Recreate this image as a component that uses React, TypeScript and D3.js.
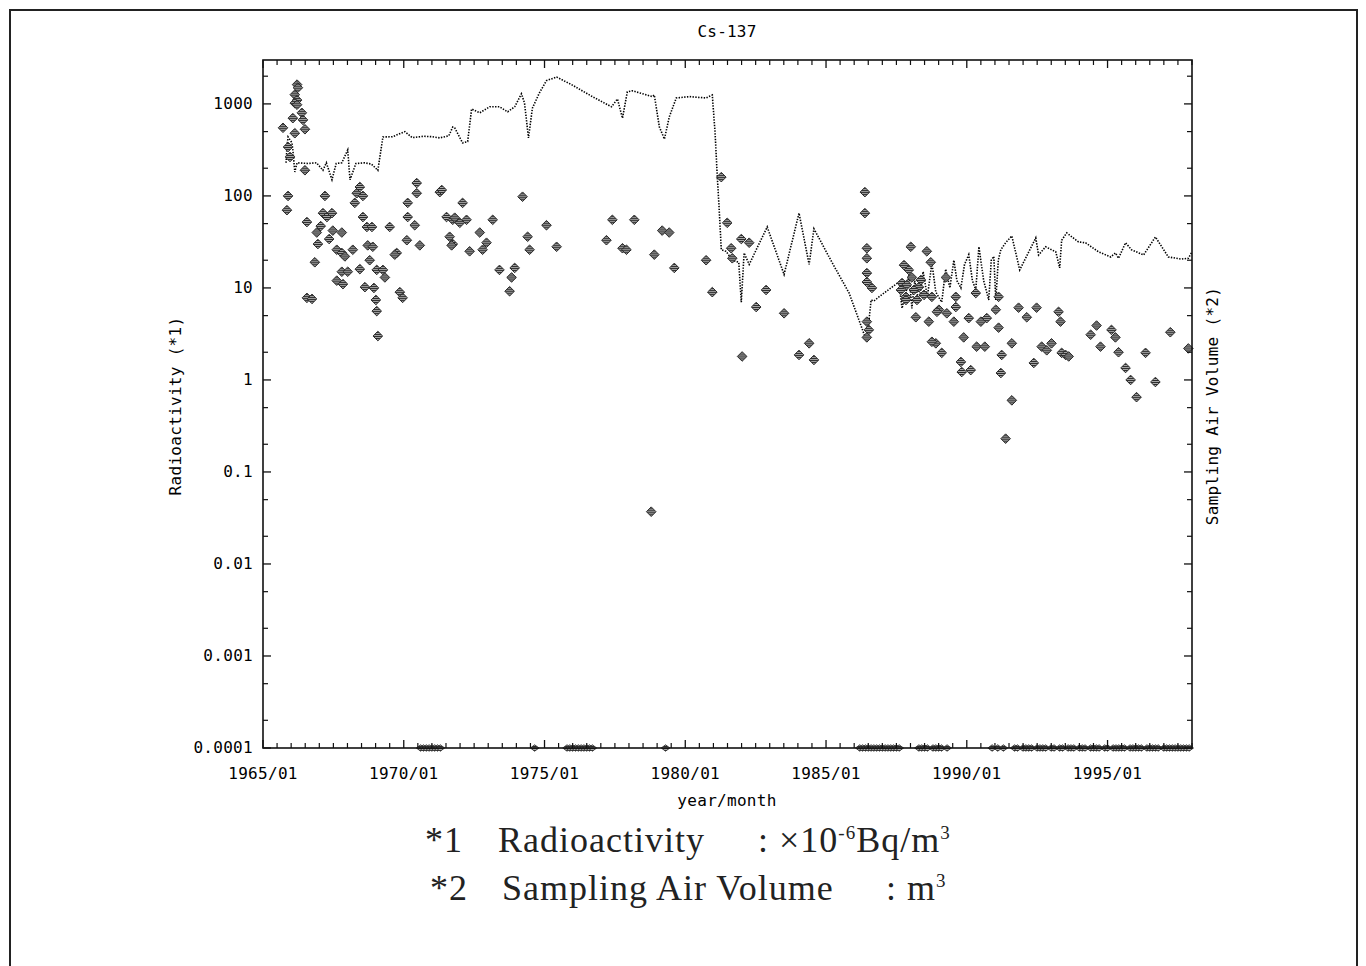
import React from "react";
import * as d3 from "d3";

// Cs-137 radioactivity (x10^-6 Bq/m3): [decimal year, value]
const radio1965 = [
  [1966.21, 1620], [1966.24, 1500], [1966.13, 1260], [1966.21, 1100], [1966.13, 1020],
  [1966.21, 980], [1966.06, 700], [1966.38, 800], [1966.42, 670], [1965.71, 550],
  [1966.13, 480], [1966.49, 530], [1965.89, 340], [1965.96, 265], [1966.49, 190],
  [1965.89, 100], [1965.85, 70], [1967.2, 100], [1966.56, 52], [1966.91, 40],
  [1966.95, 30], [1967.13, 65], [1967.27, 59], [1967.45, 65], [1967.48, 42],
  [1967.8, 40], [1967.62, 26], [1967.8, 24], [1967.91, 22], [1968.19, 26],
  [1968.33, 107], [1968.44, 125], [1968.26, 84], [1968.55, 100], [1968.55, 59],
  [1968.69, 46], [1968.87, 46], [1968.72, 29], [1968.9, 28], [1969.04, 15.7],
  [1969.26, 15.7], [1967.8, 15], [1968.01, 15], [1968.79, 20], [1969.5, 46],
  [1969.75, 24], [1970.11, 33], [1970.14, 59], [1970.46, 138], [1970.46, 107],
  [1970.14, 84], [1970.39, 48], [1970.57, 29], [1966.56, 7.8], [1966.74, 7.6],
  [1967.62, 12], [1967.84, 11], [1969.01, 7.4], [1968.94, 10], [1969.08, 3.0],
  [1969.04, 5.6], [1969.33, 13], [1969.68, 23], [1969.86, 9], [1969.96, 7.8],
  [1968.44, 16], [1968.62, 10.2], [1966.84, 19], [1967.35, 34], [1967.05, 47],
];

const radio1971 = [
  [1971.28, 110], [1971.35, 116], [1971.52, 59], [1971.74, 55], [1971.74, 30],
  [1971.81, 58], [1972.09, 84], [1971.99, 51], [1972.23, 55], [1971.63, 36],
  [1971.7, 29], [1972.7, 40], [1972.94, 31], [1972.34, 25], [1972.8, 26],
  [1973.16, 55], [1973.4, 15.7], [1973.94, 16.5], [1974.22, 98], [1974.4, 36],
  [1974.47, 26], [1975.07, 48], [1975.43, 28], [1973.83, 13], [1973.76, 9.2],
];

const radio1976 = [
  [1977.41, 55], [1977.2, 33], [1977.77, 27], [1978.19, 55], [1977.91, 26],
  [1978.9, 23], [1979.18, 42], [1979.43, 40], [1979.61, 16.5], [1980.74, 20],
  [1980.96, 9], [1978.79, 0.037], [1981.28, 160], [1981.49, 51], [1981.63, 27],
  [1981.67, 21], [1981.99, 34], [1982.27, 31], [1982.52, 6.2], [1982.87, 9.5],
  [1983.51, 5.3], [1982.02, 1.8], [1984.04, 1.87], [1984.4, 2.5], [1984.57, 1.65],
];

const radio1986 = [
  [1986.38, 110], [1986.38, 65], [1986.45, 27], [1986.45, 21], [1986.45, 14.5],
  [1986.45, 11.6], [1986.63, 10], [1986.45, 4.3], [1986.52, 3.5], [1986.45, 2.9],
];

const radio1987 = [
  [1988.01, 28], [1988.58, 25], [1987.7, 11.3], [1987.84, 8], [1987.94, 15.7],
  [1988.05, 13], [1988.3, 10.2], [1988.19, 4.8], [1988.65, 4.3], [1988.76, 8],
  [1988.9, 2.5], [1989.11, 1.97], [1989.01, 5.8], [1989.29, 5.3], [1989.61, 8],
  [1987.84, 7.4], [1988.94, 5.5], [1988.76, 2.6], [1989.61, 6.2], [1989.54, 4.3],
  [1989.89, 2.9], [1989.79, 1.57], [1989.82, 1.22], [1990.14, 1.28], [1990.32, 8.8],
  [1990.07, 4.7], [1990.35, 2.3], [1990.64, 2.3], [1990.5, 4.3], [1990.71, 4.7],
  [1991.13, 3.7], [1991.03, 5.8], [1991.13, 8], [1991.24, 1.87], [1991.21, 1.19],
  [1991.6, 0.6], [1991.38, 0.23], [1991.6, 2.5], [1991.84, 6.1], [1992.13, 4.8],
  [1992.48, 6.1], [1992.38, 1.53], [1992.66, 2.3], [1992.84, 2.1], [1993.01, 2.5],
  [1993.26, 5.5], [1993.33, 4.3], [1993.37, 1.97], [1993.51, 1.87], [1993.62, 1.8],
  [1994.4, 3.1], [1994.61, 3.9], [1994.75, 2.3], [1995.14, 3.5], [1995.28, 2.9],
  [1995.39, 2], [1995.64, 1.35], [1995.82, 1.0], [1996.03, 0.65], [1996.35, 1.97],
  [1996.7, 0.95], [1997.23, 3.3], [1997.87, 2.2], [1987.77, 17.7], [1987.87, 10.8],
  [1988.12, 9.5], [1988.37, 12.2], [1988.48, 8.4], [1988.23, 7.4], [1987.66, 9.5],
  [1988.72, 19], [1989.26, 13],
];

// below detection limit, plotted on the 0.0001 line
const belowLimitDates = [
  1970.6, 1970.7, 1970.8, 1970.9, 1971.0, 1971.1, 1971.2, 1971.3,
  1974.65,
  1975.8, 1975.9, 1976.0, 1976.1, 1976.2, 1976.3, 1976.4, 1976.5, 1976.6, 1976.7,
  1979.3,
  1986.2, 1986.3, 1986.4, 1986.5, 1986.6, 1986.7, 1986.8, 1986.9, 1987.0, 1987.1,
  1987.2, 1987.3, 1987.4, 1987.5, 1987.6,
  1988.3, 1988.4, 1988.5, 1988.6, 1988.8, 1988.9, 1989.0, 1989.1, 1989.3,
  1990.9, 1991.1, 1991.3,
  1991.7, 1991.8, 1992.0, 1992.1, 1992.2, 1992.3, 1992.5, 1992.6, 1992.7, 1992.8,
  1993.0, 1993.1, 1993.3, 1993.4, 1993.6, 1993.7, 1993.8, 1994.0, 1994.1, 1994.2,
  1994.4, 1994.5, 1994.6, 1994.7, 1994.9, 1995.0, 1995.2, 1995.3, 1995.4, 1995.5,
  1995.6, 1995.8, 1995.9, 1996.0, 1996.1, 1996.2, 1996.4, 1996.5, 1996.6, 1996.7,
  1996.8, 1997.0, 1997.1, 1997.2, 1997.3, 1997.4, 1997.5, 1997.6, 1997.7, 1997.8, 1997.9,
];

// sampling air volume (m3): [decimal year, value]
const airVolume = [
  [1965.82, 229], [1965.85, 340], [1965.89, 437], [1966.03, 377], [1966.06, 316],
  [1966.13, 182], [1966.21, 229], [1966.6, 225], [1966.9, 229], [1967.13, 190],
  [1967.25, 229], [1967.45, 150], [1967.6, 225], [1967.8, 229], [1968.01, 316],
  [1968.09, 150], [1968.3, 225], [1968.6, 229], [1968.85, 222], [1969.08, 190],
  [1969.26, 437], [1969.6, 440], [1970.04, 500], [1970.3, 430], [1970.7, 445],
  [1971.0, 440], [1971.28, 427], [1971.6, 450], [1971.74, 560], [1971.81, 550],
  [1972.09, 377], [1972.27, 390], [1972.41, 880], [1972.7, 800], [1973.05, 930],
  [1973.4, 930], [1973.69, 820], [1973.94, 930], [1974.18, 1290], [1974.29, 1020],
  [1974.43, 427], [1974.57, 900], [1974.82, 1320], [1975.07, 1790], [1975.43, 1960],
  [1975.99, 1600], [1976.7, 1200], [1977.38, 930], [1977.59, 1130], [1977.77, 700],
  [1977.94, 1350], [1978.12, 1390], [1978.83, 1200], [1978.9, 1250], [1979.08, 560],
  [1979.26, 415], [1979.43, 720], [1979.68, 1160], [1980.14, 1200], [1980.74, 1160],
  [1980.96, 1250], [1981.06, 480], [1981.13, 178], [1981.2, 76], [1981.28, 26],
  [1981.45, 25], [1981.67, 20], [1981.9, 19], [1981.99, 7], [1982.09, 24],
  [1982.27, 18], [1982.91, 46], [1983.51, 14], [1984.04, 65], [1984.4, 18],
  [1984.57, 44], [1985.21, 19], [1985.82, 8.8], [1986.45, 2.6], [1986.6, 7.4],
  [1986.7, 7.2], [1986.88, 8], [1987.59, 11.6], [1987.7, 6], [1987.84, 8.8],
  [1987.95, 14], [1988.05, 6], [1988.15, 12], [1988.3, 7], [1988.45, 15],
  [1988.6, 8], [1988.76, 18.7], [1988.9, 9], [1989.11, 7], [1989.25, 16],
  [1989.4, 10], [1989.54, 20], [1989.65, 12], [1989.79, 10], [1989.92, 18],
  [1990.07, 23], [1990.2, 12], [1990.32, 9.5], [1990.43, 28], [1990.6, 12],
  [1990.78, 7.4], [1990.87, 20], [1990.96, 22], [1991.03, 7.4], [1991.12, 20],
  [1991.21, 26], [1991.38, 31], [1991.6, 36.7], [1991.88, 15.7], [1992.45, 35],
  [1992.55, 22.8], [1992.8, 28], [1993.16, 24.7], [1993.3, 16.5], [1993.37, 33],
  [1993.55, 39.6], [1993.97, 31.6], [1994.22, 30.9], [1994.68, 24.7], [1995.11, 21.7],
  [1995.28, 24], [1995.39, 21], [1995.64, 31], [1995.85, 26], [1996.28, 22.8],
  [1996.7, 35.8], [1997.16, 21.7], [1997.62, 20.6], [1997.87, 21], [1997.98, 24],
];

const yMajor = [0.0001, 0.001, 0.01, 0.1, 1, 10, 100, 1000];
const xMajor = [1965, 1970, 1975, 1980, 1985, 1990, 1995];

const mono = "'DejaVu Sans Mono', monospace";
const serif = "'Liberation Serif', 'Times New Roman', serif";

const App = () => {
  const left = 263, right = 1192, top = 60, bottom = 748;
  const x = d3.scaleLinear().domain([1965, 1998]).range([left, right]);
  const y = d3.scaleLog().domain([0.0001, 3000]).range([bottom, top]);

  const yMinor = [];
  yMajor.forEach((d) => [2, 5].forEach((m) => { if (d * m <= 3000) yMinor.push(d * m); }));
  const xMinor = d3.range(1965, 1998.01, 0.5).filter((d) => !xMajor.includes(d));

  const line = d3.line().x((d) => x(d[0])).y((d) => y(d[1]));
  const radio = [...radio1965, ...radio1971, ...radio1976, ...radio1986, ...radio1987];
  const diamond = "M0,-4.8L4.8,0L0,4.8L-4.8,0Z";
  const small = "M0,-3.2L4.3,0L0,3.2L-4.3,0Z";

  return (
    <svg width={1366} height={966} style={{ position: "absolute", left: 0, top: 0, background: "#fff" }}>
      <defs>
        <pattern id="hatch" width="2" height="2" patternUnits="userSpaceOnUse">
          <rect width="2" height="2" fill="#a8a8a8" />
          <rect width="2" height="1" fill="#2a2a2a" />
        </pattern>
      </defs>
      <rect x={0} y={0} width={1366} height={966} fill="#fff" />
      <rect x={10} y={10} width={1347} height={990} fill="none" stroke="#222" strokeWidth={2} />

      <text x={727} y={37} textAnchor="middle" fontFamily={mono} fontSize={16} letterSpacing={0.2}>Cs-137</text>

      {/* sampling air volume */}
      <path d={line(airVolume)} fill="none" stroke="#000" strokeWidth={1.6} strokeDasharray="1.4 1.4" />

      {/* radioactivity */}
      {radio.map((d, i) => (
        <path key={i} d={diamond} transform={`translate(${x(d[0])},${y(d[1])})`}
          fill="url(#hatch)" stroke="#2a2a2a" strokeWidth={1} />
      ))}
      {belowLimitDates.map((d, i) => (
        <path key={"b" + i} d={small} transform={`translate(${x(d)},${bottom})`}
          fill="url(#hatch)" stroke="#333" strokeWidth={0.9} />
      ))}

      {/* frame */}
      <rect x={left} y={top} width={right - left} height={bottom - top} fill="none" stroke="#111" strokeWidth={1.6} />

      {/* y ticks, both sides */}
      {yMajor.map((d) => (
        <g key={"ym" + d}>
          <line x1={left} x2={left + 8} y1={y(d)} y2={y(d)} stroke="#111" strokeWidth={1.3} />
          <line x1={right} x2={right - 8} y1={y(d)} y2={y(d)} stroke="#111" strokeWidth={1.3} />
          <text x={253} y={y(d) + 5} textAnchor="end" fontFamily={mono} fontSize={16} letterSpacing={0.3}>{String(d)}</text>
        </g>
      ))}
      {yMinor.map((d) => (
        <g key={"yn" + d}>
          <line x1={left} x2={left + 5} y1={y(d)} y2={y(d)} stroke="#111" strokeWidth={1.2} />
          <line x1={right} x2={right - 5} y1={y(d)} y2={y(d)} stroke="#111" strokeWidth={1.2} />
        </g>
      ))}

      {/* x ticks, both sides */}
      {xMajor.map((d) => (
        <g key={"xm" + d}>
          <line x1={x(d)} x2={x(d)} y1={bottom} y2={bottom - 8} stroke="#111" strokeWidth={1.3} />
          <line x1={x(d)} x2={x(d)} y1={top} y2={top + 8} stroke="#111" strokeWidth={1.3} />
          <text x={x(d)} y={779} textAnchor="middle" fontFamily={mono} fontSize={16} letterSpacing={0.3}>{`${d}/01`}</text>
        </g>
      ))}
      {xMinor.map((d) => (
        <g key={"xn" + d}>
          <line x1={x(d)} x2={x(d)} y1={bottom} y2={bottom - 5} stroke="#111" strokeWidth={1.2} />
          <line x1={x(d)} x2={x(d)} y1={top} y2={top + 5} stroke="#111" strokeWidth={1.2} />
        </g>
      ))}

      <text x={727} y={806} textAnchor="middle" fontFamily={mono} fontSize={16} letterSpacing={0.3}>year/month</text>
      <text transform="translate(181,406) rotate(-90)" textAnchor="middle" fontFamily={mono} fontSize={16} letterSpacing={0.3}>Radioactivity (*1)</text>
      <text transform="translate(1218,406) rotate(-90)" textAnchor="middle" fontFamily={mono} fontSize={16} letterSpacing={0.3}>Sampling Air Volume (*2)</text>

      {/* footnotes */}
      <g fontFamily={serif} fontSize={36} letterSpacing={1} fill="#222">
        <text x={425} y={852}>*1</text>
        <text x={498} y={852}>Radioactivity</text>
        <text x={758} y={852}>
          : ×10<tspan fontSize={19} dy={-13}>-6</tspan><tspan dy={13}>Bq/m</tspan><tspan fontSize={19} dy={-13}>3</tspan>
        </text>
        <text x={430} y={900}>*2</text>
        <text x={502} y={900}>Sampling Air Volume</text>
        <text x={886} y={900}>
          : m<tspan fontSize={19} dy={-13}>3</tspan>
        </text>
      </g>
    </svg>
  );
};

export default App;
